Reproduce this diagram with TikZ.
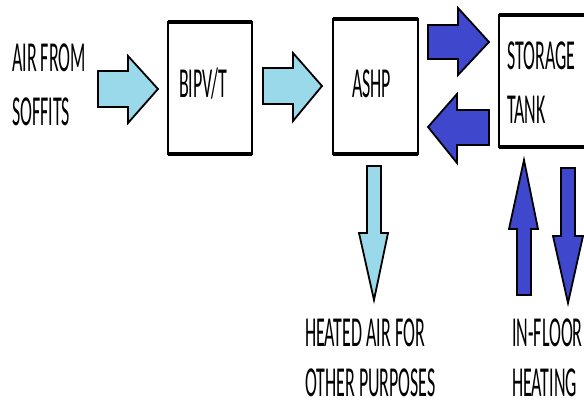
\documentclass[tikz,border=0pt]{standalone}
\usepackage{fontspec}
\usepackage{graphicx}
\setmainfont{Carlito}
\definecolor{lightb}{RGB}{153,217,234}
\definecolor{darkb}{RGB}{63,72,204}
\newcommand{\cz}[1]{\scalebox{0.42}[1]{\fontsize{42.7}{50}\selectfont #1}}
\tikzset{
  lbl/.style={anchor=base west, inner sep=0pt, text=black, text depth=0pt},
  boxside/.style={line width=1.8pt, draw=black},
  boxedge/.style={line width=3.2pt, draw=black},
  larrow/.style={fill=lightb, draw=black, line width=1.8pt, line join=miter},
  darrow/.style={fill=darkb, draw=black, line width=1.8pt, line join=miter}
}
\begin{document}
\begin{tikzpicture}[x=1pt,y=-1pt]
\useasboundingbox (0,0) rectangle (584,404);
% boxes
\draw[boxside] (168,22) rectangle (252,154);
\draw[boxedge] (168,22) -- (252,22) (168,154) -- (252,154);
\draw[boxside] (333,19) rectangle (418,154);
\draw[boxedge] (333,19) -- (418,19) (333,154) -- (418,154);
\draw[boxside] (590,15) -- (499,15) -- (499,147) -- (590,147);
\draw[boxedge] (499,15) -- (590,15) (499,147) -- (590,147);
\clip (0,0) rectangle (584,404);
% texts
\node[lbl] (t1) at (12,72) {\cz{AIR FROM}};
\node[lbl] (t2) at (12,125) {\cz{SOFFITS}};
\node[lbl] (bipv) at (179,97) {\cz{BIPV/T}};
\node[lbl] (ashp) at (352,97) {\cz{ASHP}};
\node[lbl] (st1) at (507,70) {\cz{STORAGE}};
\node[lbl] (st2) at (507,124) {\cz{TANK}};
\node[lbl] (h1) at (305,346) {\cz{HEATED AIR FOR}};
\node[lbl] (h2) at (305,396) {\cz{OTHER PURPOSES}};
\node[lbl] (f1) at (512,346) {\cz{IN-FLOOR}};
\node[lbl] (f2) at (512,396) {\cz{HEATING}};
% arrows
\draw[larrow] (98,71) -- (128,71) -- (128,56) -- (158,89) -- (128,123) -- (128,107) -- (98,107) -- cycle;
\draw[larrow] (263,68) -- (293,68) -- (293,53) -- (322,86) -- (293,121) -- (293,104) -- (263,104) -- cycle;
\draw[darrow] (428,25) -- (458,25) -- (458,8) -- (489,42) -- (458,75) -- (458,59) -- (428,59) -- cycle;
\draw[darrow] (489,110) -- (457,110) -- (457,94) -- (428,127) -- (457,163) -- (457,145) -- (489,145) -- cycle;
\draw[larrow] (367,166) -- (381,166) -- (381,233) -- (388,233) -- (374,300) -- (359,233) -- (367,233) -- cycle;
\draw[darrow] (517,295) -- (531,295) -- (531,229) -- (538,229) -- (524,160) -- (509,229) -- (517,229) -- cycle;
\draw[darrow] (561,168) -- (575,168) -- (575,236) -- (583,236) -- (568,303) -- (553,236) -- (561,236) -- cycle;
\end{tikzpicture}
\end{document}
